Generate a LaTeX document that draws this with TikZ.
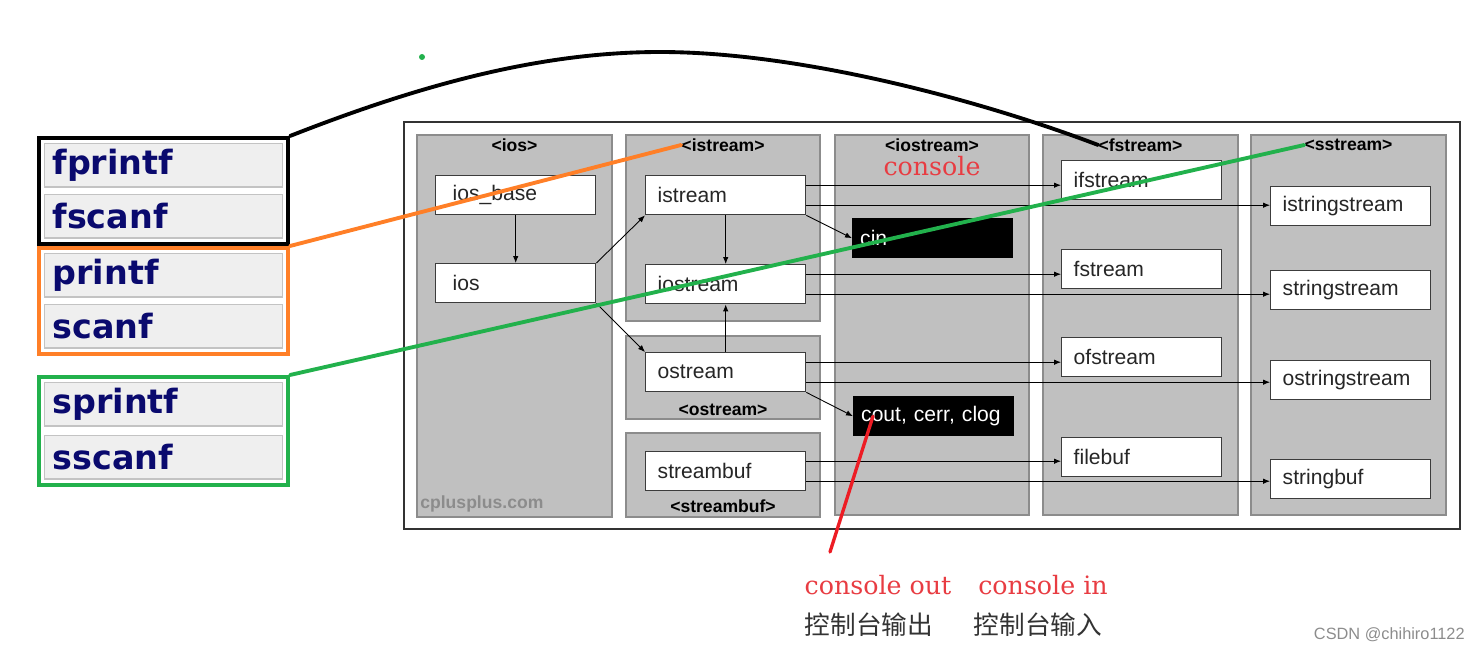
\documentclass[tikz,border=0pt]{standalone}
\usepackage{fontspec}
\setmainfont{Liberation Sans}
\newfontfamily\serifface{DejaVu Serif}
\newfontfamily\verdface{DejaVu Sans}
\newfontfamily\cjk{Noto Sans CJK SC}
\usepackage{xcolor}
\usetikzlibrary{arrows.meta,positioning,fit}

\definecolor{panelgray}{RGB}{192,192,192}
\definecolor{panelline}{RGB}{140,140,140}
\definecolor{boxline}{RGB}{60,60,60}
\definecolor{rowgray}{RGB}{239,239,239}
\definecolor{rowline}{RGB}{195,195,195}
\definecolor{navy}{RGB}{10,10,110}
\definecolor{linkorange}{RGB}{255,127,39}
\definecolor{linkgreen}{RGB}{34,177,76}
\definecolor{linkred}{RGB}{237,28,36}
\definecolor{consolered}{RGB}{232,60,66}

\begin{document}
\begin{tikzpicture}[
  x=0.02cm, y=-0.02cm,
  panel/.style={fill=panelgray, draw=panelline, line width=1.4pt},
  title/.style={font=\fontsize{10}{12}\selectfont\bfseries, inner sep=0pt},
  box/.style={draw=boxline, fill=white, line width=0.8pt, anchor=north west, minimum height=0.78cm, text width=2.72cm, inner xsep=0.24cm, inner ysep=0pt, align=left, font=\fontsize{12}{14}\selectfont, text=black!85},
  iosbox/.style={box, text width=2.52cm, inner xsep=0.34cm},
  blackbox/.style={box, fill=black, draw=black, text=white, text width=2.9cm, inner xsep=0.15cm},
  arr/.style={-{Latex[length=1.4mm,width=1.1mm]}, line width=0.5pt},
  fnrow/.style={fill=rowgray, draw=rowline, line width=0.6pt, anchor=north west, minimum height=0.87cm, text width=4.44cm, inner xsep=0.16cm, inner ysep=0pt, align=left, font=\verdface\fontsize{19}{20}\selectfont\bfseries, text=navy},
  groupframe/.style={fill=none, inner sep=0.1cm, line width=2.3pt},
  link/.style={line width=2.2pt, line cap=round}
]
  \useasboundingbox (0,0) rectangle (1479,652);

  % cplusplus.com header map
  \draw[black!80, line width=0.7pt] (404,122) rectangle (1460,529);
  \draw[panel] (417,135) rectangle (612,517);
  \draw[panel] (626,135) rectangle (820,321);
  \draw[panel] (626,336) rectangle (820,419);
  \draw[panel] (626,433) rectangle (820,517);
  \draw[panel] (835,135) rectangle (1029,515);
  \draw[panel] (1043,135) rectangle (1238,515);
  \draw[panel] (1251,135) rectangle (1446,515);

  \node[title] (iostitle) at (514.5,145) {<ios>};
  \node[title] (istreamtitle) at (723,145) {<istream>};
  \node[title] (ostreamtitle) at (723,410) {<ostream>};
  \node[title] (streambuftitle) at (723,506) {<streambuf>};
  \node[title] (iostreamtitle) at (932,145) {<iostream>};
  \node[title] (fstreamtitle) at (1140.5,145) {<fstream>};
  \node[title] (sstreamtitle) at (1348.5,145) {<sstream>};
  \node[font=\serifface\fontsize{14.4}{16}\selectfont, text=consolered, inner sep=0pt] (consolelbl) at (932,166) {console};
  \node[font=\bfseries\fontsize{10}{12}\selectfont, text=black!45, anchor=west, inner sep=0pt] (site) at (420,504) {cplusplus.com};

  \node[iosbox] (iosbase) at (435,175) {ios\_base};
  \node[iosbox] (ios) at (435,263) {ios};
  \node[box] (istream) at (645,175) {istream};
  \node[box] (iostream) at (645,264) {iostream};
  \node[box] (ostream) at (645,352) {ostream};
  \node[box] (streambuf) at (645,451) {streambuf};
  \node[blackbox] (cin) at (852,218) {cin};
  \node[blackbox] (cout) at (853,396) {cout, cerr, clog};
  \node[box] (ifstream) at (1061,160) {ifstream};
  \node[box] (fstream) at (1061,249) {fstream};
  \node[box] (ofstream) at (1061,337) {ofstream};
  \node[box] (filebuf) at (1061,437) {filebuf};
  \node[box] (istringstream) at (1270,186) {istringstream};
  \node[box] (stringstream) at (1270,270) {stringstream};
  \node[box] (ostringstream) at (1270,360) {ostringstream};
  \node[box] (stringbuf) at (1270,459) {stringbuf};

  \draw[arr] (iosbase) -- (ios);
  \draw[arr] (ios.north east) -- (istream.south west);
  \draw[arr] (ios.south east) -- (ostream.north west);
  \draw[arr] (istream) -- (iostream);
  \draw[arr] (ostream) -- (iostream);
  \draw[arr] (istream.south east) -- (cin.west);
  \draw[arr] (ostream.south east) -- (cout.west);

  \draw[arr] ([yshift=0.2cm]istream.east) -- ([yshift=0.2cm]istream.east -| ifstream.west);
  \draw[arr] ([yshift=-0.2cm]istream.east) -- ([yshift=-0.2cm]istream.east -| istringstream.west);
  \draw[arr] ([yshift=0.2cm]iostream.east) -- ([yshift=0.2cm]iostream.east -| fstream.west);
  \draw[arr] ([yshift=-0.2cm]iostream.east) -- ([yshift=-0.2cm]iostream.east -| stringstream.west);
  \draw[arr] ([yshift=0.2cm]ostream.east) -- ([yshift=0.2cm]ostream.east -| ofstream.west);
  \draw[arr] ([yshift=-0.2cm]ostream.east) -- ([yshift=-0.2cm]ostream.east -| ostringstream.west);
  \draw[arr] ([yshift=0.2cm]streambuf.east) -- ([yshift=0.2cm]streambuf.east -| filebuf.west);
  \draw[arr] ([yshift=-0.2cm]streambuf.east) -- ([yshift=-0.2cm]streambuf.east -| stringbuf.west);

  % C functions on the left
  \node[fnrow] (fprintf) at (44,143) {fprintf};
  \node[fnrow] (fscanf) at (44,194) {fscanf};
  \node[fnrow] (printf) at (44,253) {printf};
  \node[fnrow] (scanf) at (44,304) {scanf};
  \node[fnrow] (sprintf) at (44,382) {sprintf};
  \node[fnrow] (sscanf) at (44,435) {sscanf};
  \node[groupframe, draw=black, fit=(fprintf)(fscanf)] (fgroup) {};
  \node[groupframe, draw=linkorange, fit=(printf)(scanf)] (pgroup) {};
  \node[groupframe, draw=linkgreen, fit=(sprintf)(sscanf)] (sgroup) {};

  \draw[link, black] (fgroup.north east) .. controls (420,85) and (540,52) .. (660,52)
    .. controls (800,52) and (980,100) .. (fstreamtitle.west);
  \draw[link, linkorange] (pgroup.north east) -- (istreamtitle.west);
  \draw[link, linkgreen] (sgroup.north east) -- (sstreamtitle.west);
  \fill[linkgreen] (422,57) circle (0.06cm);

  % console notes
  \node[font=\serifface\fontsize{14.4}{16}\selectfont, text=consolered] (outlbl) at (878,585) {console out};
  \node[font=\serifface\fontsize{14.4}{16}\selectfont, text=consolered] (inlbl) at (1043,585) {console in};
  \node[font=\cjk\fontsize{14.6}{16}\selectfont, text=black!80] (outcn) at (869,625) {控制台输出};
  \node[font=\cjk\fontsize{14.6}{16}\selectfont, text=black!80] (incn) at (1038,625) {控制台输入};
  \coordinate (redend) at (830,552);
  \draw[link, linkred, line width=1.9pt] ([xshift=0.4cm]cout.west) -- (redend);

  \node[font=\fontsize{9.3}{11}\selectfont, text=black!45, anchor=east, inner sep=0pt] (csdn) at (1465,635) {CSDN @chihiro1122};
\end{tikzpicture}
\end{document}
